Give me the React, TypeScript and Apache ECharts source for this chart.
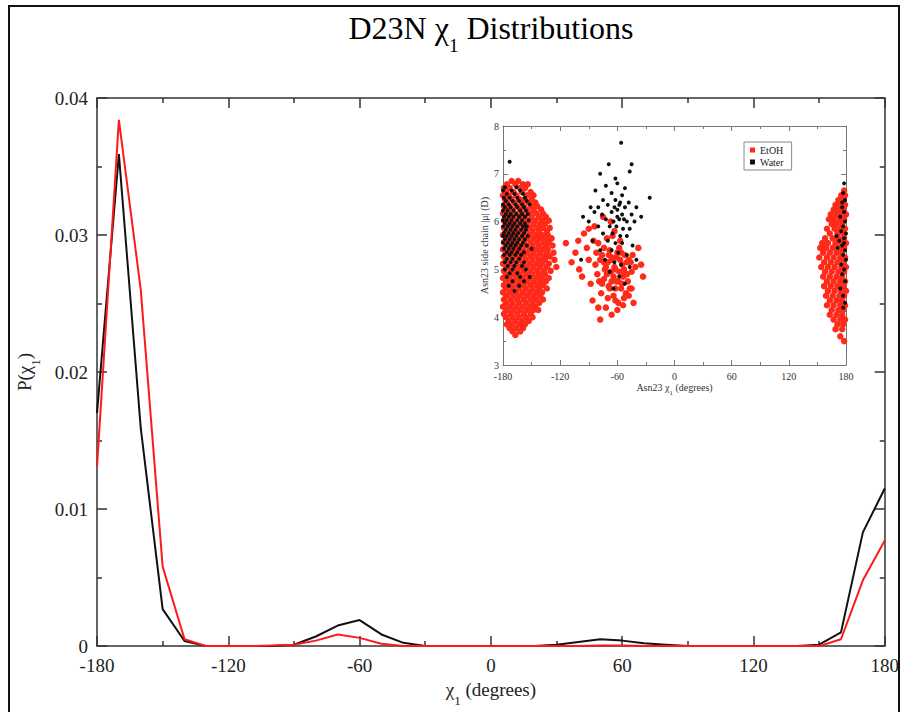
import React, { useEffect, useRef } from "react";
import * as echarts from "echarts";

// ---- main distributions ----
const angles = [-180, -170, -160, -150, -140, -130, -120, -110, -100, -90, -80, -70, -60, -50, -40, -30, -20, -10, 0, 10, 20, 30, 40, 50, 60, 70, 80, 90, 100, 110, 120, 130, 140, 150, 160, 170, 180];
const etohP = [0.0131, 0.0384, 0.026, 0.0058, 0.0005, 0.0, 0.0, 0.0, 0.00005, 0.0001, 0.0004, 0.00085, 0.0006, 0.00017, 0.0, 0.0, 0.0, 0.0, 0.0, 0.0, 0.0, 0.0, 0.0, 0.00005, 0.00005, 0.0, 0.0, 0.0, 0.0, 0.0, 0.0, 0.0, 0.0, 0.0, 0.0005, 0.0048, 0.0077];
const waterP = [0.017, 0.0359, 0.0159, 0.0027, 0.00037, 0.0, 0.0, 0.0, 0.0, 0.0001, 0.0007, 0.0015, 0.0019, 0.00085, 0.00024, 0.0, 0.0, 0.0, 0.0, 0.0, 0.0, 0.0001, 0.0003, 0.0005, 0.0004, 0.0002, 0.0001, 0.0, 0.0, 0.0, 0.0, 0.0, 0.0, 0.0001, 0.001, 0.0083, 0.0115];

// ---- inset scatter: rows of [dipole |mu|, chi1 values] ----
const etohLeftRows: [number, number[]][] = [
  [6.85, [-171, -164]],
  [6.78, [-176, -167, -159, -154]],
  [6.7, [-179, -173, -162, -157]],
  [6.62, [-177, -169, -160, -151]],
  [6.55, [-180, -174, -166, -155, -148]],
  [6.47, [-178, -171, -163, -157, -150]],
  [6.4, [-176, -168, -160, -153, -146]],
  [6.32, [-179, -173, -165, -158, -150, -144]],
  [6.25, [-177, -170, -162, -155, -148, -140]],
  [6.17, [-180, -174, -167, -160, -152, -145, -138]],
  [6.1, [-177, -171, -163, -157, -150, -142, -135]],
  [6.02, [-179, -173, -166, -159, -153, -146, -139, -132]],
  [5.95, [-176, -169, -162, -155, -148, -141, -136]],
  [5.87, [-179, -172, -165, -158, -151, -144, -138, -131]],
  [5.8, [-177, -170, -163, -156, -149, -142, -134]],
  [5.72, [-180, -173, -166, -159, -152, -145, -139, -133]],
  [5.65, [-176, -169, -162, -155, -148, -141, -136, -129]],
  [5.57, [-179, -172, -165, -158, -151, -144, -137, -132]],
  [5.5, [-177, -170, -163, -156, -149, -142, -135, -128]],
  [5.42, [-180, -173, -166, -159, -152, -145, -139, -133]],
  [5.35, [-176, -169, -162, -155, -148, -141, -134, -127]],
  [5.27, [-179, -172, -165, -158, -151, -144, -137, -131]],
  [5.2, [-177, -170, -163, -156, -149, -142, -136, -126]],
  [5.12, [-180, -173, -166, -159, -152, -145, -139, -132]],
  [5.05, [-176, -169, -162, -155, -148, -141, -134, -124]],
  [4.97, [-179, -172, -165, -158, -151, -144, -137, -130]],
  [4.9, [-177, -170, -163, -156, -149, -142, -136]],
  [4.82, [-180, -173, -166, -159, -152, -145, -139, -132]],
  [4.75, [-176, -169, -162, -155, -148, -141, -135]],
  [4.67, [-179, -172, -165, -158, -151, -144, -138]],
  [4.6, [-177, -170, -163, -156, -149, -142, -134]],
  [4.52, [-180, -173, -166, -159, -152, -145, -139]],
  [4.45, [-176, -169, -162, -155, -148, -141]],
  [4.37, [-179, -172, -165, -158, -151, -145, -138]],
  [4.3, [-177, -170, -163, -156, -149, -142]],
  [4.22, [-180, -173, -166, -159, -152, -146]],
  [4.15, [-176, -169, -162, -155, -148, -143]],
  [4.07, [-179, -172, -165, -158, -151]],
  [4.0, [-177, -170, -163, -156, -149]],
  [3.92, [-174, -167, -160, -153]],
  [3.85, [-176, -170, -163, -157]],
  [3.77, [-173, -166, -159]],
  [3.7, [-170, -162]],
  [3.63, [-167]],
];
const etohMid: [number, number][] = [
  [-114, 5.55], [-108, 5.15], [-104, 5.35], [-101, 5.6], [-100, 5.0], [-97, 4.85], [-95, 5.75], [-92, 5.45], [-90, 5.2], [-90, 5.85],
  [-88, 4.7], [-86, 4.35], [-85, 5.6], [-84, 5.9], [-83, 5.1], [-81, 4.9], [-80, 5.55], [-80, 4.2], [-78, 3.95], [-77, 4.5],
  [-76, 5.3], [-75, 6.1], [-74, 4.8], [-74, 5.45], [-73, 5.0], [-72, 4.2], [-71, 5.65], [-70, 5.15], [-70, 4.4], [-69, 4.65],
  [-68, 5.4], [-67, 4.95], [-67, 6.0], [-66, 4.05], [-65, 5.25], [-65, 5.7], [-64, 4.45], [-63, 5.8], [-62, 5.0], [-62, 4.6],
  [-61, 4.75], [-60, 5.35], [-60, 4.15], [-59, 4.3], [-58, 4.95], [-58, 5.45], [-57, 5.6], [-56, 4.6], [-55, 5.1], [-54, 4.85],
  [-53, 4.4], [-52, 5.3], [-51, 4.5], [-50, 4.9], [-48, 5.2], [-47, 4.6], [-45, 4.95], [-44, 5.3], [-43, 4.3], [-41, 5.05],
  [-38, 5.45], [-35, 5.1], [-33, 4.85], [-72, 5.05], [-66, 5.2], [-64, 4.85], [-57, 5.2], [-53, 5.0], [-49, 4.75], [-46, 5.15],
  [-78, 5.2], [-76, 4.7], [-71, 4.9], [-69, 5.3], [-63, 5.05], [-61, 5.25], [-59, 4.75], [-55, 4.7], [-52, 4.9], [-50, 5.15],
  [-48, 4.45], [-56, 5.35], [-62, 4.35], [-68, 4.6], [-74, 5.15], [-54, 4.25], [-66, 4.75], [-82, 5.35], [-79, 4.75], [-45, 4.6],
];
const etohRightRows: [number, number[]][] = [
  [6.65, [178]],
  [6.55, [175, 179]],
  [6.45, [172, 177]],
  [6.35, [169, 174, 179]],
  [6.25, [167, 172, 177]],
  [6.15, [164, 170, 175, 180]],
  [6.05, [162, 167, 173, 178]],
  [5.95, [165, 170, 176]],
  [5.85, [160, 168, 174, 179]],
  [5.75, [163, 171, 177]],
  [5.65, [158, 166, 172, 178]],
  [5.55, [155, 161, 169, 175, 180]],
  [5.45, [153, 159, 166, 173, 178]],
  [5.35, [156, 163, 170, 176]],
  [5.25, [152, 160, 167, 174, 179]],
  [5.15, [157, 164, 171, 177]],
  [5.05, [154, 161, 168, 175, 180]],
  [4.95, [158, 165, 172, 178]],
  [4.85, [156, 163, 170, 176]],
  [4.75, [160, 167, 174, 179]],
  [4.65, [157, 164, 171, 177]],
  [4.55, [161, 168, 175, 180]],
  [4.45, [159, 166, 173, 178]],
  [4.35, [163, 170, 176]],
  [4.25, [160, 167, 174, 179]],
  [4.15, [165, 172, 177]],
  [4.05, [163, 170, 176]],
  [3.95, [167, 174, 179]],
  [3.85, [171, 177]],
  [3.75, [169, 176]],
  [3.6, [174]],
  [3.5, [178]],
];
const waterLeftRows: [number, number[]][] = [
  [7.25, [-173]],
  [6.72, [-178, -166]],
  [6.65, [-180, -171, -162]],
  [6.58, [-176, -168, -159]],
  [6.5, [-179, -173, -165, -157]],
  [6.43, [-177, -170, -163, -155]],
  [6.36, [-180, -174, -167, -160, -152]],
  [6.3, [-178, -172, -165, -158]],
  [6.23, [-180, -175, -169, -162, -156]],
  [6.16, [-177, -172, -166, -160, -154]],
  [6.1, [-179, -174, -169, -163, -157]],
  [6.03, [-180, -176, -171, -165, -160, -153]],
  [5.96, [-178, -173, -168, -162, -157]],
  [5.9, [-180, -175, -170, -165, -159, -155]],
  [5.83, [-177, -172, -167, -161, -156]],
  [5.76, [-179, -174, -169, -164, -158]],
  [5.7, [-180, -176, -171, -166, -160, -154]],
  [5.63, [-178, -173, -168, -163, -157]],
  [5.56, [-180, -175, -170, -165, -159]],
  [5.5, [-177, -172, -167, -161, -155]],
  [5.43, [-179, -174, -169, -163, -150]],
  [5.36, [-176, -171, -165, -158]],
  [5.3, [-179, -173, -167, -161]],
  [5.22, [-176, -170, -163]],
  [5.15, [-178, -172, -166, -158]],
  [5.07, [-175, -168, -160]],
  [5.0, [-178, -170, -156]],
  [4.92, [-173, -165]],
  [4.84, [-176, -162, -152]],
  [4.75, [-170, -158]],
  [4.66, [-174, -163]],
  [4.55, [-168]],
];
const waterMid: [number, number][] = [
  [-56, 7.65], [-69, 7.2], [-45, 7.2], [-78, 7.0], [-47, 7.05], [-62, 6.9], [-60, 6.8], [-72, 6.75], [-52, 6.7], [-83, 6.65],
  [-66, 6.6], [-55, 6.55], [-26, 6.5], [-75, 6.45], [-62, 6.45], [-48, 6.4], [-88, 6.3], [-80, 6.3], [-70, 6.35], [-58, 6.35],
  [-52, 6.3], [-40, 6.3], [-96, 6.1], [-84, 6.2], [-76, 6.15], [-66, 6.2], [-60, 6.25], [-55, 6.15], [-45, 6.15], [-35, 6.1],
  [-90, 6.0], [-72, 6.05], [-64, 6.0], [-58, 6.05], [-50, 6.0], [-42, 6.0], [-80, 5.9], [-68, 5.9], [-61, 5.9], [-54, 5.85],
  [-47, 5.85], [-75, 5.75], [-65, 5.75], [-57, 5.7], [-50, 5.7], [-86, 5.6], [-70, 5.6], [-62, 5.55], [-55, 5.55], [-44, 5.5],
  [-78, 5.4], [-66, 5.4], [-59, 5.35], [-50, 5.3], [-73, 5.2], [-63, 5.15], [-56, 5.1], [-47, 5.05], [-98, 5.2], [-68, 4.95],
  [-58, 4.85], [-52, 4.7], [-64, 4.6], [-40, 5.2], [-60, 6.1], [-57, 6.4], [-63, 6.3], [-53, 6.05],
];
const waterRight: [number, number][] = [
  [178, 6.8], [177, 6.6], [179, 6.45], [176, 6.3], [178, 6.2], [174, 6.1], [179, 6.0], [177, 5.9], [175, 5.8], [180, 5.75],
  [178, 5.65], [173, 5.6], [176, 5.5], [179, 5.4], [177, 5.3], [171, 5.45], [180, 5.2], [175, 5.1], [178, 5.0], [176, 4.9],
  [179, 4.75], [174, 4.6], [177, 4.45], [179, 4.3], [170, 5.7], [176, 6.4], [178, 5.55], [177, 4.2],
];

const rowsToPoints = (rows: [number, number[]][]) => rows.flatMap(([y, xs]) => xs.map((x) => [x, y]));

const serif = "Liberation Serif";

export default function App() {
  const ref = useRef<HTMLDivElement>(null);
  useEffect(() => {
    if (!ref.current) return;
    const chart = echarts.init(ref.current, null, { renderer: "svg" });
    const axisCol = "#333";
    const mainAxisCommon = {
      axisLine: { show: true, onZero: false, lineStyle: { color: axisCol, width: 1.5 } },
      axisTick: { show: true, inside: true, length: 10, lineStyle: { color: axisCol, width: 1.5 } },
      minorTick: { show: true, splitNumber: 2, length: 5, lineStyle: { color: axisCol, width: 1.5 } },
      splitLine: { show: false },
    };
    const insetAxisCommon = {
      axisLine: { show: true, onZero: false, lineStyle: { color: "#777", width: 1 } },
      axisTick: { show: true, inside: true, length: 5, lineStyle: { color: "#777", width: 1 } },
      minorTick: { show: true, splitNumber: 2, length: 3, lineStyle: { color: "#777", width: 1 } },
      splitLine: { show: false },
    };
    const etohPts = [...rowsToPoints(etohLeftRows), ...etohMid, ...rowsToPoints(etohRightRows)];
    const waterPts = [...rowsToPoints(waterLeftRows), ...waterMid, ...waterRight];
    const bigRich = {
      g: { fontFamily: serif, fontSize: 19, color: "#222", lineHeight: 24, verticalAlign: "top" },
      s: { fontFamily: serif, fontSize: 13, color: "#222", lineHeight: 14, verticalAlign: "top", padding: [14, 0, 0, 0] },
    };
    chart.setOption({
      animation: false,
      backgroundColor: "#fff",
      graphic: [
        { type: "rect", shape: { x: 9, y: 6, width: 890, height: 730 }, style: { fill: "none", stroke: "#111", lineWidth: 2 }, z: 100 },
        {
          type: "text", x: 491, y: 12, z: 100,
          style: {
            text: "{a|D23N }{a|χ}{s|1}{a| Distributions}",
            align: "center", textAlign: "center",
            rich: {
              a: { fontFamily: serif, fontSize: 32, color: "#111", lineHeight: 38, verticalAlign: "top" },
              s: { fontFamily: serif, fontSize: 19, color: "#111", lineHeight: 20, verticalAlign: "top", padding: [24, 0, 0, 0] },
            },
          },
        },
      ],
      grid: [
        { left: 97, right: 16, top: 98, bottom: 64 },
        { left: 503, top: 126, width: 343, height: 239, show: true, backgroundColor: "#fff", borderWidth: 0, z: 10 },
      ],
      legend: {
        data: ["EtOH", "Water"],
        orient: "vertical",
        left: 744, top: 142,
        borderColor: "#888", borderWidth: 1,
        padding: [3, 8, 3, 6],
        itemWidth: 5, itemHeight: 5, itemGap: 2,
        icon: "rect",
        textStyle: { fontFamily: serif, fontSize: 10, color: "#222" },
        z: 20,
      },
      xAxis: [
        {
          gridIndex: 0, type: "value", min: -180, max: 180, interval: 60, position: "bottom",
          ...mainAxisCommon,
          axisLabel: { fontFamily: serif, fontSize: 19, color: "#222", margin: 10 },
          name: "{g|χ}{s|1}{g| (degrees)}", nameLocation: "middle", nameGap: 32,
          nameTextStyle: { rich: bigRich },
        },
        {
          gridIndex: 0, type: "value", min: -180, max: 180, interval: 60, position: "top",
          ...mainAxisCommon, axisLabel: { show: false },
        },
        {
          gridIndex: 1, type: "value", min: -180, max: 180, interval: 60, position: "bottom",
          ...insetAxisCommon,
          axisLabel: { fontFamily: serif, fontSize: 10, color: "#333", margin: 6 },
          name: "{g|Asn23 χ}{s|1}{g| (degrees)}", nameLocation: "middle", nameGap: 17,
          nameTextStyle: {
            rich: {
              g: { fontFamily: serif, fontSize: 10, color: "#333", lineHeight: 12, verticalAlign: "top" },
              s: { fontFamily: serif, fontSize: 7, color: "#333", lineHeight: 8, verticalAlign: "top", padding: [7, 0, 0, 0] },
            },
          },
          z: 10,
        },
        {
          gridIndex: 1, type: "value", min: -180, max: 180, interval: 60, position: "top",
          ...insetAxisCommon, axisLabel: { show: false }, z: 10,
        },
      ],
      yAxis: [
        {
          gridIndex: 0, type: "value", min: 0, max: 0.04, interval: 0.01, position: "left",
          ...mainAxisCommon,
          axisLabel: { fontFamily: serif, fontSize: 19, color: "#222", margin: 9 },
          name: "{g|P(χ}{s|1}{g|)}", nameLocation: "middle", nameGap: 58, nameRotate: 90,
          nameTextStyle: { rich: bigRich },
        },
        {
          gridIndex: 0, type: "value", min: 0, max: 0.04, interval: 0.01, position: "right",
          ...mainAxisCommon, axisLabel: { show: false },
        },
        {
          gridIndex: 1, type: "value", min: 3, max: 8, interval: 1, position: "left",
          ...insetAxisCommon,
          axisLabel: { fontFamily: serif, fontSize: 10, color: "#333", margin: 4 },
          name: "Asn23 side chain |μ| (D)", nameLocation: "middle", nameGap: 14, nameRotate: 90,
          nameTextStyle: { fontFamily: serif, fontSize: 10, color: "#333" },
          z: 10,
        },
        {
          gridIndex: 1, type: "value", min: 3, max: 8, interval: 1, position: "right",
          ...insetAxisCommon, axisLabel: { show: false }, z: 10,
        },
      ],
      series: [
        {
          name: "WaterP", type: "line", xAxisIndex: 0, yAxisIndex: 0, showSymbol: false,
          data: angles.map((a, i) => [a, waterP[i]]),
          lineStyle: { color: "#111", width: 2 }, itemStyle: { color: "#111" },
        },
        {
          name: "EtOHP", type: "line", xAxisIndex: 0, yAxisIndex: 0, showSymbol: false,
          data: angles.map((a, i) => [a, etohP[i]]),
          lineStyle: { color: "#ff1a1a", width: 2 }, itemStyle: { color: "#ff1a1a" },
        },
        {
          name: "EtOH", type: "scatter", xAxisIndex: 2, yAxisIndex: 2, symbol: "circle", symbolSize: 6.5,
          data: etohPts, itemStyle: { color: "#ff2a1a", opacity: 1 }, z: 11, clip: true,
        },
        {
          name: "Water", type: "scatter", xAxisIndex: 2, yAxisIndex: 2, symbol: "circle", symbolSize: 4,
          data: waterPts, itemStyle: { color: "#111", opacity: 1 }, z: 12, clip: true,
        },
      ],
    });
    return () => chart.dispose();
  }, []);
  return <div ref={ref} style={{ position: "fixed", left: 0, top: 0, width: 902, height: 712, background: "#fff" }} />;
}
